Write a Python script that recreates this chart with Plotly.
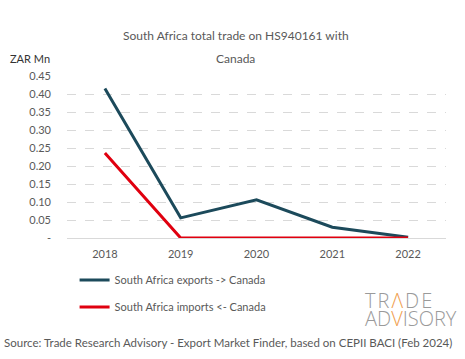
import plotly.graph_objects as go

years = ["2018", "2019", "2020", "2021", "2022"]
exports = [0.415, 0.056, 0.106, 0.030, 0.002]
imports = [0.236, 0.0, 0.0, 0.0, 0.0]
ytick_vals = [0, 0.05, 0.10, 0.15, 0.20, 0.25, 0.30, 0.35, 0.40, 0.45]
ytick_text = ["-", "0.05", "0.10", "0.15", "0.20", "0.25", "0.30", "0.35", "0.40", "0.45"]

FONT = "Lato"
GRAY = "#595959"

fig = go.Figure()
fig.add_trace(go.Scatter(x=years, y=exports, mode="lines", name="South Africa exports -> Canada",
                         line=dict(color="#1c4a5b", width=3), legend="legend"))
fig.add_trace(go.Scatter(x=years, y=imports, mode="lines", name="South Africa imports <- Canada",
                         line=dict(color="#e0000f", width=3), legend="legend2"))

fig.update_layout(
    width=465, height=359,
    margin=dict(l=67, r=19, t=76, b=121, autoexpand=False),
    paper_bgcolor="white", plot_bgcolor="white",
    font=dict(family=FONT, color=GRAY, size=11),
    xaxis=dict(type="category", range=[-0.5, 4.5], showgrid=False, showline=False, ticks="",
               ticklen=8, ticklabelstandoff=8, tickfont=dict(size=11, color=GRAY)),
    yaxis=dict(range=[0, 0.45], tickvals=ytick_vals, ticktext=ytick_text,
               showgrid=True, gridcolor="#d9d9d9", griddash="dash", gridwidth=1,
               zeroline=True, zerolinecolor="#d9d9d9", zerolinewidth=1,
               showline=False, ticks="", ticklabelstandoff=15, tickfont=dict(size=11, color=GRAY)),
    legend=dict(x=0.02, y=-0.259, xanchor="left", yanchor="middle",
                font=dict(size=11, color=GRAY), bgcolor="rgba(0,0,0,0)", itemwidth=30),
    legend2=dict(x=0.02, y=-0.426, xanchor="left", yanchor="middle",
                 font=dict(size=11, color=GRAY), bgcolor="rgba(0,0,0,0)", itemwidth=30),
    showlegend=True,
)

fig.add_annotation(text="South Africa total trade on HS940161 with", xref="paper", yref="paper",
                   x=0.445, y=1.247, xanchor="center", yanchor="middle", showarrow=False,
                   font=dict(size=12, color=GRAY, family=FONT))
fig.add_annotation(text="Canada", xref="paper", yref="paper",
                   x=0.445, y=1.111, xanchor="center", yanchor="middle", showarrow=False,
                   font=dict(size=12, color=GRAY, family=FONT))
fig.add_annotation(text="ZAR Mn", xref="paper", yref="paper", x=-0.155, y=1.105,
                   xanchor="left", yanchor="middle", showarrow=False,
                   font=dict(size=11, color="#333333", family=FONT))
fig.add_annotation(text="Source: Trade Research Advisory - Export Market Finder, based on CEPII BACI (Feb 2024)",
                   xref="paper", yref="paper", x=-0.172, y=-0.642, xanchor="left", yanchor="middle",
                   showarrow=False, font=dict(size=11.5, color=GRAY, family=FONT))
LOGO_FONT = dict(size=20, color="#9a9a9a", family="Open Sans", weight=300)
HS = "\u200a"
fig.add_annotation(text=f"T{HS}R{HS}<span style='color:#f0a050'>Λ</span>{HS}D{HS}E", xref="paper", yref="paper",
                   x=0.782, y=-0.383, xanchor="left", yanchor="middle", showarrow=False,
                   font=LOGO_FONT)
fig.add_annotation(text="AD<span style='color:#f0a050'>V</span>ISORY", xref="paper", yref="paper",
                   x=0.782, y=-0.494, xanchor="left", yanchor="middle", showarrow=False,
                   font=LOGO_FONT)

fig.write_html("out.html", config={"displayModeBar": False},
               post_script="document.body.style.margin='0';")
